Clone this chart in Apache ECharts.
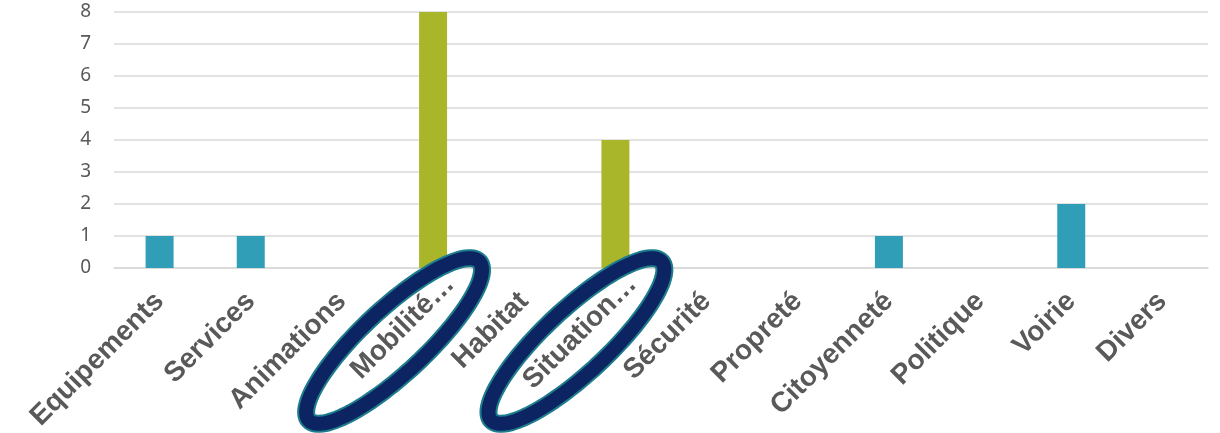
<!DOCTYPE html>
<html>
<head>
<meta charset="utf-8">
<script src="https://cdn.jsdelivr.net/npm/echarts@6/dist/echarts.min.js"></script>
<style>
html,body{margin:0;padding:0;background:#fff;}
#c{width:1220px;height:433px;}
</style>
</head>
<body>
<div id="c"></div>
<script>
const categories = ['Equipements','Services','Animations','Mobilité…','Habitat','Situation…','Sécurité','Propreté','Citoyenneté','Politique','Voirie','Divers'];
const values = [1,1,0,8,0,4,0,0,1,0,2,0];
const highlighted = ['Mobilité…','Situation…'];
const yTicks = [0,1,2,3,4,5,6,7,8];

const TEAL = '#2F9EB6';
const GREEN = '#A9B62A';

const chart = echarts.init(document.getElementById('c'), null, {renderer:'canvas'});
chart.setOption({
  animation:false,
  grid:{left:114,right:12,top:12,bottom:165,containLabel:false,outerBoundsMode:'none'},
  xAxis:{
    type:'category',
    data:categories.map(c=>highlighted.includes(c)?{value:c,textStyle:{padding:[12,-24,0,0]}}:c),
    axisTick:{show:false},
    axisLine:{show:true,lineStyle:{color:'#D9D9D9',width:1.5}},
    axisLabel:{rotate:45,interval:0,margin:29,color:'#595959',fontFamily:'Liberation Sans',fontWeight:'bold',fontSize:28}
  },
  yAxis:{
    type:'value',min:yTicks[0],max:yTicks[yTicks.length-1],interval:1,
    axisLine:{show:false},axisTick:{show:false},
    splitLine:{lineStyle:{color:'#D9D9D9',width:1.5}},
    axisLabel:{margin:23,color:'#595959',fontFamily:'Noto Sans',fontSize:19}
  },
  series:[{
    type:'bar',
    barWidth:'30.7%',
    data:values.map((v,i)=>({value:v,itemStyle:{color:highlighted.includes(categories[i])?GREEN:TEAL}}))
  }]
});

function ellipsePoints(cx,cy,a,b,theta){
  const pts=[];
  for(let k=0;k<120;k++){
    const t=k/120*Math.PI*2;
    const x=a*Math.cos(t), y=b*Math.sin(t);
    pts.push([cx + x*Math.cos(theta) + y*Math.sin(theta), cy - x*Math.sin(theta) + y*Math.cos(theta)]);
  }
  return pts;
}
const y0 = chart.convertToPixel({yAxisIndex:0},0);
const graphics=[];
highlighted.forEach(cat=>{
  const x = chart.convertToPixel({xAxisIndex:0},cat);
  const pts = ellipsePoints(x-39, y0+73, 116.5, 32, 43*Math.PI/180);
  graphics.push({type:'polygon',z:100,shape:{points:pts},style:{fill:null,stroke:'#1E7D8C',lineWidth:18}});
  graphics.push({type:'polygon',z:101,shape:{points:pts},style:{fill:null,stroke:'#0C2461',lineWidth:14}});
});
chart.setOption({graphic:graphics});
</script>
</body>
</html>
